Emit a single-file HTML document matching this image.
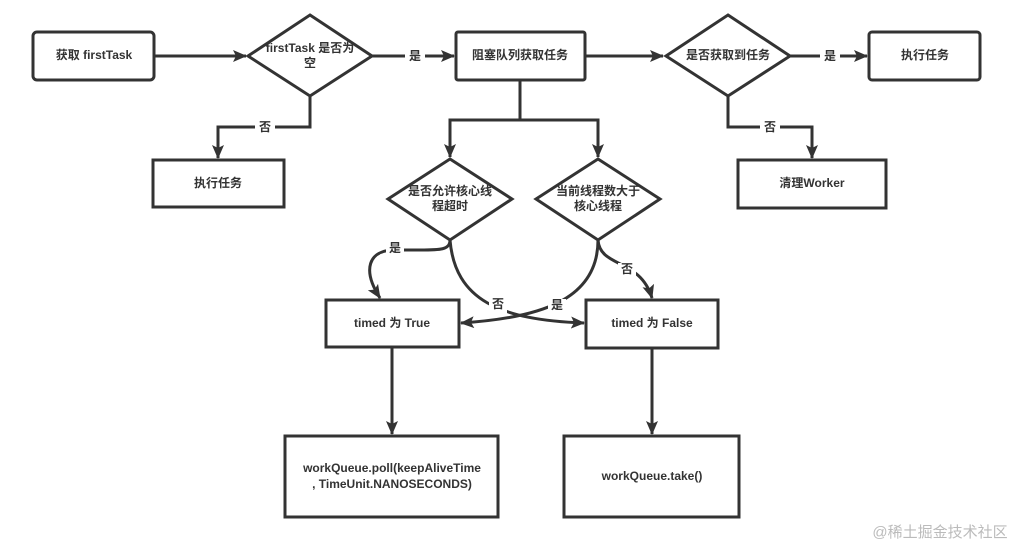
<!DOCTYPE html>
<html><head><meta charset="utf-8"><style>
html,body{margin:0;padding:0;background:#fff;}
svg{display:block;}
text{font-family:"Liberation Sans","Noto Sans CJK SC",sans-serif;font-size:12px;font-weight:bold;fill:#333;text-anchor:middle;dominant-baseline:middle;}
.s{fill:none;stroke:#333;stroke-width:3;}
.b{fill:#fff;stroke:#333;stroke-width:3;}
.lb{fill:#fff;stroke:none;}
</style></head><body>
<svg width="1028" height="551" viewBox="0 0 1028 551">
<defs><marker id="a" markerWidth="10" markerHeight="10" refX="8" refY="5" orient="auto" markerUnits="userSpaceOnUse" viewBox="0 0 10 10"><path d="M0,0 L10,5 L0,10 Z" fill="#333"/></marker>
<marker id="m" markerWidth="14" markerHeight="12" refX="13" refY="6" orient="auto" markerUnits="userSpaceOnUse"><path d="M0,0 L14,6 L0,12 L3,6 Z" fill="#333"/></marker></defs>

<!-- connectors -->
<path class="s" d="M154,56 L246,56" marker-end="url(#m)"/>
<path class="s" d="M372,56 L454,56" marker-end="url(#m)"/>
<path class="s" d="M585,56 L663,56" marker-end="url(#m)"/>
<path class="s" d="M790,56 L867,56" marker-end="url(#m)"/>
<path class="s" d="M310,96 L310,127 L218,127 L218,158" marker-end="url(#m)"/>
<path class="s" d="M728,96 L728,127 L812,127 L812,158" marker-end="url(#m)"/>
<path class="s" d="M520,80 L520,120 L450,120 L450,157" marker-end="url(#m)"/>
<path class="s" d="M520,120 L598,120 L598,157" marker-end="url(#m)"/>
<path class="s" d="M450,240 C450,250 440,250 420,250 L395,250 C368,250 362,270 380,298" marker-end="url(#m)"/>
<path class="s" d="M450,240 C455,300 500,320 584,323" marker-end="url(#m)"/>
<path class="s" d="M598,240 C598,300 540,318 461,323" marker-end="url(#m)"/>
<path class="s" d="M598,240 C600,268 640,258 652,298" marker-end="url(#m)"/>
<path class="s" d="M392,347 L392,434" marker-end="url(#m)"/>
<path class="s" d="M652,348 L652,434" marker-end="url(#m)"/>

<!-- labels on connectors -->
<rect class="lb" x="405" y="48" width="20" height="16"/><text x="415" y="57">是</text>
<rect class="lb" x="820" y="48" width="20" height="16"/><text x="830" y="57">是</text>
<rect class="lb" x="255" y="120" width="20" height="16"/><text x="265" y="128">否</text>
<rect class="lb" x="760" y="120" width="20" height="16"/><text x="770" y="128">否</text>
<rect class="lb" x="386" y="242" width="18" height="15"/><text x="395" y="249">是</text>
<rect class="lb" x="489" y="298" width="18" height="15"/><text x="498" y="305">否</text>
<rect class="lb" x="548" y="299" width="18" height="15"/><text x="557" y="306">是</text>
<rect class="lb" x="618" y="263" width="18" height="15"/><text x="627" y="270">否</text>

<!-- nodes -->
<rect class="b" x="33" y="32" width="121" height="48" rx="4"/><text x="94" y="56">获取 firstTask</text>
<polygon class="b" points="310,15 372,56 310,96 248,56"/><text x="310" y="49">firstTask 是否为</text><text x="310" y="64">空</text>
<rect class="b" x="456" y="32" width="129" height="48" rx="2"/><text x="520" y="56">阻塞队列获取任务</text>
<polygon class="b" points="728,15 790,56 728,96 666,56"/><text x="728" y="56">是否获取到任务</text>
<rect class="b" x="869" y="32" width="111" height="48" rx="3"/><text x="925" y="56">执行任务</text>
<rect class="b" x="153" y="160" width="131" height="47"/><text x="218" y="184">执行任务</text>
<rect class="b" x="738" y="160" width="148" height="48"/><text x="812" y="184">清理Worker</text>
<polygon class="b" points="450,159 512,199 450,240 388,199"/><text x="450" y="192">是否允许核心线</text><text x="450" y="207">程超时</text>
<polygon class="b" points="598,159 660,199 598,240 536,199"/><text x="598" y="192">当前线程数大于</text><text x="598" y="207">核心线程</text>
<rect class="b" x="326" y="300" width="133" height="47"/><text x="392" y="324">timed 为 True</text>
<rect class="b" x="586" y="300" width="132" height="48"/><text x="652" y="324">timed 为 False</text>
<rect class="b" x="285" y="436" width="213" height="81"/><text x="392" y="469">workQueue.poll(keepAliveTime</text><text x="392" y="485">, TimeUnit.NANOSECONDS)</text>
<rect class="b" x="564" y="436" width="175" height="81"/><text x="652" y="477">workQueue.take()</text>

<text x="940" y="533" style="font-weight:normal;font-size:15px;fill:#bbb">@稀土掘金技术社区</text>
</svg>
</body></html>
